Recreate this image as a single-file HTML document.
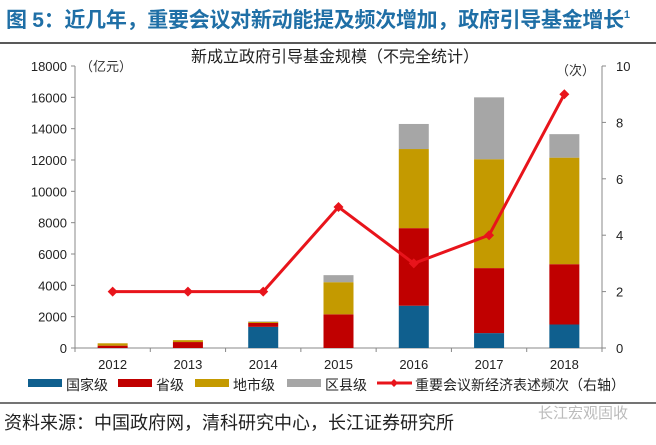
<!DOCTYPE html>
<html><head><meta charset="utf-8"><style>
body{margin:0;width:656px;height:440px;background:#fff;overflow:hidden;font-family:"Liberation Sans","Noto Sans CJK SC",sans-serif}
</style></head><body>
<svg width="656" height="440" font-family="Liberation Sans, Noto Sans CJK SC, sans-serif">
<text x="6" y="27" font-size="21" font-weight="bold" fill="#1f6fa6" textLength="624">图 5：近几年，重要会议对新动能提及频次增加，政府引导基金增长<tspan font-size="11" dy="-9">1</tspan></text>
<line x1="0" y1="43" x2="656" y2="43" stroke="#222" stroke-width="1.5"/>
<text x="335" y="62" font-size="16" text-anchor="middle" fill="#222">新成立政府引导基金规模（不完全统计）</text>
<text x="80" y="71" font-size="13" fill="#333">（亿元）</text>
<text x="556" y="75" font-size="13" fill="#333">（次）</text>
<g id="axes"></g><g id="bars"></g><g id="line"></g><g id="legend"></g>
<line x1="0" y1="403" x2="656" y2="403" stroke="#222" stroke-width="1.2"/>
<text x="4" y="429" font-size="18" fill="#222">资料来源：中国政府网，清科研究中心，长江证券研究所</text>
<text x="538" y="418" font-size="15" fill="#bbb">长江宏观固收</text>
</svg>
<script>
const categories=["2012","2013","2014","2015","2016","2017","2018"];
const national=[0,0,1350,0,2700,950,1500];
const provincial=[150,380,250,2150,4950,4150,3850];
const city=[150,120,60,2050,5050,6950,6800];
const county=[0,0,40,450,1600,3950,1500];
const mentions=[2,2,2,5,3,4,9];
const leftTicks=[0,2000,4000,6000,8000,10000,12000,14000,16000,18000];
const rightTicks=[0,2,4,6,8,10];
const NS="http://www.w3.org/2000/svg";
const X0=75,X1=602,Y0=348,Y1=66;
const step=(X1-X0)/categories.length;
const xc=i=>X0+step*(i+0.5);
const yL=v=>Y0-(v/18000)*(Y0-Y1);
const yR=v=>Y0-(v/10)*(Y0-Y1);
function mk(tag,attrs,parent){const e=document.createElementNS(NS,tag);for(const k in attrs)e.setAttribute(k,attrs[k]);document.getElementById(parent).appendChild(e);return e;}
let e;
e=mk("line",{x1:X0,y1:Y1,x2:X0,y2:Y0,stroke:"#888"},"axes");


e=mk("line",{x1:X1,y1:Y1,x2:X1,y2:Y0,stroke:"#888"},"axes");


e=mk("line",{x1:X0,y1:Y0,x2:X1,y2:Y0,stroke:"#888"},"axes");


leftTicks.forEach(t=>{
 mk("line",{x1:X0-4,y1:yL(t),x2:X0,y2:yL(t),stroke:"#888"},"axes");
 e=mk("text",{x:X0-8,y:yL(t)+5,"font-size":13,"text-anchor":"end",fill:"#222"},"axes");e.textContent=t;
 
 
});
rightTicks.forEach(t=>{
 mk("line",{x1:X1,y1:yR(t),x2:X1+4,y2:yR(t),stroke:"#888"},"axes");
 e=mk("text",{x:X1+14,y:yR(t)+5,"font-size":13,fill:"#222"},"axes");e.textContent=t;
 
 
});
for(let i=0;i<=categories.length;i++)mk("line",{x1:X0+step*i,y1:Y0,x2:X0+step*i,y2:Y0+4,stroke:"#888"},"axes");
categories.forEach((c,i)=>{e=mk("text",{x:xc(i),y:Y0+21,"font-size":13,"text-anchor":"middle",fill:"#222"},"axes");e.textContent=c;
 
 });
const series=[[national,"#0f5f8e","national"],[provincial,"#c00000","provincial"],[city,"#c49a00","city"],[county,"#a6a6a6","county"]];
const bw=30;
categories.forEach((c,i)=>{let acc=0;series.forEach(([arr,col,nm])=>{const v=arr[i];if(v>0){
 e=mk("rect",{x:xc(i)-bw/2,y:yL(acc+v),width:bw,height:yL(acc)-yL(acc+v),fill:col},"bars");
 
 }acc+=v;});});
e=mk("polyline",{points:mentions.map((v,i)=>xc(i)+","+yR(v)).join(" "),fill:"none",stroke:"#e8141b","stroke-width":3},"line");


mentions.forEach((v,i)=>{e=mk("path",{d:`M${xc(i)-5},${yR(v)}L${xc(i)},${yR(v)-5}L${xc(i)+5},${yR(v)}L${xc(i)},${yR(v)+5}Z`,fill:"#e8141b"},"line");
 
 });
const leg=[["国家级","#0f5f8e",28],["省级","#c00000",118],["地市级","#c49a00",195],["区县级","#a6a6a6",287]];
leg.forEach(([t,c,x])=>{e=mk("rect",{x:x,y:379,width:34,height:8,fill:c},"legend");
 
 
 e=mk("text",{x:x+38,y:390,"font-size":14,fill:"#222"},"legend");e.textContent=t;
 
 });
e=mk("line",{x1:377,y1:383,x2:412,y2:383,stroke:"#e8141b","stroke-width":3},"legend");


mk("path",{d:"M390,383L394,379L398,383L394,387Z",fill:"#e8141b"},"legend");
e=mk("text",{x:415,y:390,"font-size":14,fill:"#222"},"legend");e.textContent="重要会议新经济表述频次（右轴）";


</script>
</body></html>
